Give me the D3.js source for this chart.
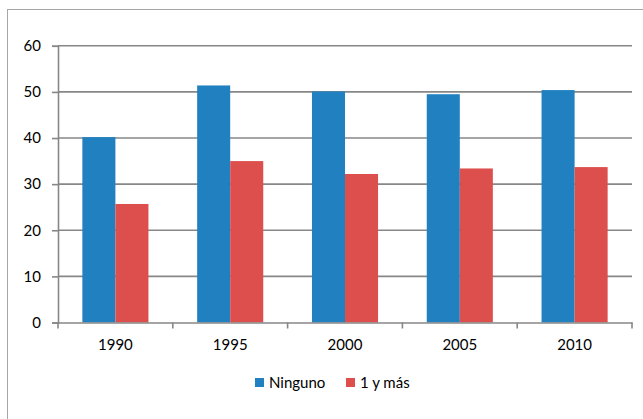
<!DOCTYPE html>
<html>
<head>
<meta charset="utf-8">
<script src="https://cdn.jsdelivr.net/npm/d3@7"></script>
<style>
  html, body { margin: 0; padding: 0; background: #fff; }
  svg { display: block; font-family: Lato, "Open Sans", sans-serif; }
</style>
</head>
<body>
<svg id="chart" width="643" height="419"></svg>
<script>
// Years and the two series (percent)
const years = ["1990", "1995", "2000", "2005", "2010"];
const ninguno = [40.2, 51.4, 50.1, 49.5, 50.4];
const unoYMas = [25.7, 35.0, 32.2, 33.4, 33.7];
const seriesNames = ["Ninguno", "1 y más"];
const seriesColors = ["#2080c0", "#dc4f4d"];
const yTicks = [0, 10, 20, 30, 40, 50, 60];

const svg = d3.select("#chart");
const gridColor = "#878787";
const fontSize = 15;
const textColor = "#000";

// outer frame
svg.append("rect")
  .attr("x", 7.5).attr("y", 9.5)
  .attr("width", 700).attr("height", 500)
  .attr("fill", "none").attr("stroke", "#a6a6a6").attr("stroke-width", 1);

const plotLeft = 58, plotRight = 632, plotTop = 45.8, plotBottom = 322.5;

const x = d3.scaleBand().domain(years).range([plotLeft, plotRight]).paddingInner(0).paddingOuter(0);
const inner = d3.scaleBand().domain(seriesNames).range([0, x.bandwidth()]).paddingOuter(0.737);
const y = d3.scaleLinear().domain([0, 60]).range([plotBottom, plotTop]);

// horizontal gridlines
svg.append("g").selectAll("line").data(yTicks.filter(d => d > 0)).join("line")
  .attr("x1", plotLeft).attr("x2", plotRight)
  .attr("y1", d => y(d)).attr("y2", d => y(d))
  .attr("stroke", gridColor).attr("stroke-width", 1.6);

// bars
const data = years.map((yr, i) => ({ year: yr, values: [ninguno[i], unoYMas[i]] }));
const groups = svg.append("g").selectAll("g").data(data).join("g")
  .attr("transform", d => `translate(${x(d.year)},0)`);
groups.selectAll("rect").data(d => d.values.map((v, j) => ({ name: seriesNames[j], v, j }))).join("rect")
  .attr("x", d => inner(d.name))
  .attr("width", inner.bandwidth())
  .attr("y", d => y(d.v))
  .attr("height", d => y(0) - y(d.v))
  .attr("fill", d => seriesColors[d.j]);

// y axis
const yAxis = d3.axisLeft(y).tickValues(yTicks).tickSize(6).tickPadding(11);
const gy = svg.append("g").attr("transform", `translate(${plotLeft},0)`).call(yAxis);
gy.select(".domain").attr("stroke", gridColor).attr("stroke-width", 1.6);
gy.selectAll(".tick line").attr("stroke", gridColor).attr("stroke-width", 1.6);
gy.selectAll(".tick text").attr("font-size", fontSize).attr("fill", textColor).attr("font-family", "Lato, 'Open Sans', sans-serif");

// x axis
const xAxis = d3.axisBottom(x).tickSize(0).tickPadding(17);
const gx = svg.append("g").attr("transform", `translate(0,${plotBottom})`).call(xAxis);
gx.select(".domain").attr("stroke", gridColor).attr("stroke-width", 1.6);
gx.selectAll(".tick text").attr("font-size", fontSize).attr("fill", textColor).attr("font-family", "Lato, 'Open Sans', sans-serif");
// category boundary ticks
const bounds = years.map(yr => x(yr)).concat([x(years[years.length - 1]) + x.bandwidth()]);
gx.append("g").selectAll("line").data(bounds).join("line")
  .attr("x1", d => d).attr("x2", d => d)
  .attr("y1", 0).attr("y2", 6)
  .attr("stroke", gridColor).attr("stroke-width", 1.6);

// legend
const legend = svg.append("g").attr("transform", "translate(255,378)");
const items = [{ name: seriesNames[0], color: seriesColors[0], dx: 0 }, { name: seriesNames[1], color: seriesColors[1], dx: 91 }];
const li = legend.selectAll("g").data(items).join("g").attr("transform", d => `translate(${d.dx},0)`);
li.append("rect").attr("width", 9).attr("height", 9).attr("fill", d => d.color);
li.append("text").attr("x", 14).attr("y", 10).attr("font-size", fontSize).attr("fill", textColor)
  .text(d => d.name);
</script>
</body>
</html>
